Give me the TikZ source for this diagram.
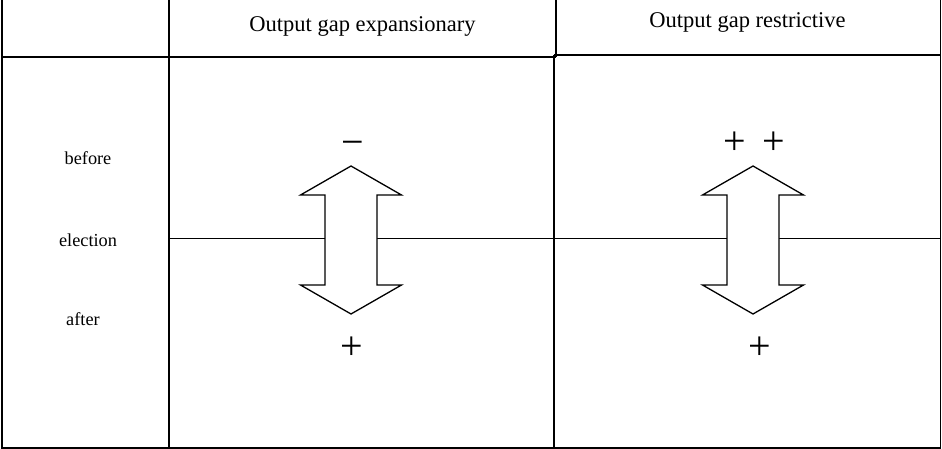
\documentclass[tikz,border=0pt]{standalone}
\usepackage{fontspec}
\setmainfont{Liberation Serif}
\begin{document}
\begin{tikzpicture}[x=1pt,y=-1pt]
\tikzset{
 frame/.style={line width=1.8pt},
 grid/.style={line width=1.4pt},
 midline/.style={line width=1pt},
 dblarrow/.style={draw, fill=white, line width=1.3pt, line join=miter},
 head/.style={font=\fontsize{22.5}{26}\selectfont, inner sep=0pt},
 rowlab/.style={font=\fontsize{18.3}{22}\selectfont, inner sep=0pt},
 sign/.style={font=\fontsize{40}{44}\selectfont, inner sep=0pt},
}
\fill[white] (0,0) rectangle (942,449);
\useasboundingbox (0,0) rectangle (942,449);
% frame coordinates
\coordinate (TL) at (2,0);
\coordinate (BL) at (2,448);
\coordinate (BR) at (940.5,448);
\coordinate (TR) at (940.5,0);
\coordinate (C1T) at (169,0);
\coordinate (C1B) at (169,448);
\coordinate (C2T) at (556,0);
\coordinate (C2M) at (556,57);
\coordinate (C2U) at (554,55);
\coordinate (C2B) at (554,448);
\coordinate (HL) at (2,57);
\coordinate (HR) at (940.5,55);
\coordinate (EL) at (169,238);
\coordinate (ER) at (940.5,238);
% frame
\draw[frame] (TL) -- (BL) -- (BR) -- (TR);
\draw[grid] (C1T) -- (C1B);
\draw[grid] (C2T) -- (C2M);
\draw[grid] (C2U) -- (C2B);
\draw[grid] (HL) -- (C2M);
\draw[grid] (C2U) -- (HR);
\draw[midline] (EL) -- (ER);
% headers
\node[head] (h1) at (362.5,26) {Output gap expansionary};
\node[head] (h2) at (747.5,22) {Output gap restrictive};
% row labels
\node[rowlab] (before) at (88,158) {before};
\node[rowlab] (election) at (88,240) {election};
\node[rowlab] (after) at (83,319) {after};
% arrows
\foreach \cx in {351, 753}{
 \draw[dblarrow, shift={(\cx,0)}] (0,166) -- (50.5,195) -- (26,195) -- (26,285) -- (50.5,285) -- (0,314)
   -- (-50.5,285) -- (-26,285) -- (-26,195) -- (-50.5,195) -- cycle;
}
% signs
\node[sign] (m1) at (353,148) {−};
\node[sign] (p1) at (352,348) {+};
\node[sign] (p2) at (735,143) {+};
\node[sign] (p3) at (774,143) {+};
\node[sign] (p4) at (760,348) {+};
\end{tikzpicture}
\end{document}
